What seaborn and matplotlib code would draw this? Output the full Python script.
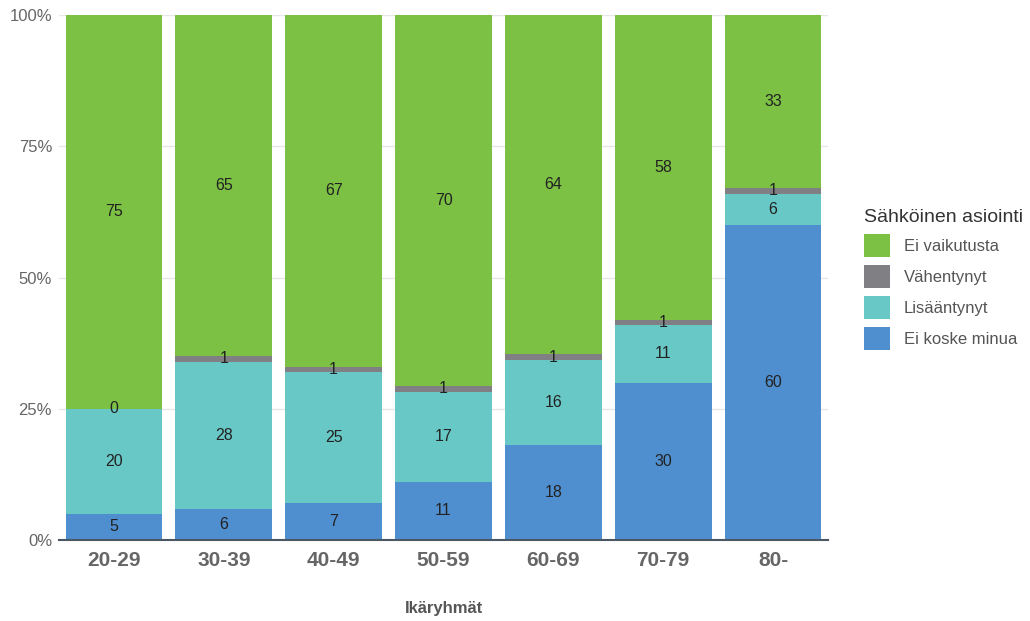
import numpy as np
import pandas as pd
import matplotlib
matplotlib.use("Agg")
import matplotlib.pyplot as plt
from matplotlib.patches import Patch
import seaborn as sns

# Age groups and answer shares (%) per group
groups = ["20-29", "30-39", "40-49", "50-59", "60-69", "70-79", "80-"]
ei_koske = [5, 6, 7, 11, 18, 30, 60]
lisaantynyt = [20, 28, 25, 17, 16, 11, 6]
vahentynyt = [0, 1, 1, 1, 1, 1, 1]
ei_vaikutusta = [75, 65, 67, 70, 64, 58, 33]

# Stacking order from the bottom up
series_names = ["Ei koske minua", "Lisääntynyt", "Vähentynyt", "Ei vaikutusta"]
series_vals = [ei_koske, lisaantynyt, vahentynyt, ei_vaikutusta]
colors = ["#4f8fcf", "#68c8c6", "#7f7f84", "#7cc143"]

sns.set_theme(style="white")
plt.rcParams["font.family"] = ["Liberation Sans", "DejaVu Sans"]

vals = np.array(series_vals, dtype=float)
shares = vals / vals.sum(axis=0) * 100  # 100% stacked
cum = np.cumsum(shares, axis=0)
bottoms = cum - shares

fig = plt.figure(figsize=(10.30, 6.21), dpi=100)
ax = fig.add_axes([59 / 1030, 1 - 540 / 621, (828 - 59) / 1030, (540 - 15) / 621])

# Draw cumulative totals from the top layer down so each layer shows its own slice
for i in range(len(series_names) - 1, -1, -1):
    df = pd.DataFrame({"group": groups, "value": cum[i]})
    sns.barplot(data=df, x="group", y="value", color=colors[i], width=0.88,
                saturation=1, edgecolor="none", linewidth=0, ax=ax, zorder=2)

# Segment value labels
for i, vals_i in enumerate(series_vals):
    for j, v in enumerate(vals_i):
        ax.text(j, bottoms[i, j] + shares[i, j] / 2, f"{v}", ha="center", va="center",
                fontsize=11.5, color="#222222", zorder=5)

ax.set_ylim(0, 100)
ax.set_xlim(-0.5, len(groups) - 0.5)
ax.set_yticks([0, 25, 50, 75, 100])
ax.set_yticklabels(["0%", "25%", "50%", "75%", "100%"], fontsize=12, color="#666666")
ax.tick_params(axis="y", length=0, pad=5)
ax.tick_params(axis="x", length=0, pad=8)
for lab in ax.get_xticklabels():
    lab.set_fontsize(15)
    lab.set_fontweight("bold")
    lab.set_color("#666666")
ax.set_xlabel("Ikäryhmät", fontsize=12, fontweight="bold", color="#555555", labelpad=22)
ax.set_ylabel("")
ax.grid(axis="y", color="#e6e6e6", linewidth=1, zorder=0)
ax.set_axisbelow(True)
for side in ["top", "right", "left"]:
    ax.spines[side].set_visible(False)
ax.spines["bottom"].set_color("#4a5866")
ax.spines["bottom"].set_linewidth(1.5)
ax.spines["bottom"].set_zorder(4)

handles = [Patch(facecolor=colors[i], edgecolor="none", label=series_names[i])
           for i in range(len(series_names) - 1, -1, -1)]
leg = fig.legend(handles=handles, title="Sähköinen asiointi", loc="upper left",
                 bbox_to_anchor=(849 / 1030, 1 - 194 / 621), frameon=False,
                 fontsize=12, title_fontsize=14, handlelength=1.55, handleheight=1.75,
                 handletextpad=0.85, labelspacing=0.48, alignment="left")
leg.get_title().set_color("#333333")
for t in leg.get_texts():
    t.set_color("#555555")

fig.savefig("out.png", dpi=100, facecolor="white")
